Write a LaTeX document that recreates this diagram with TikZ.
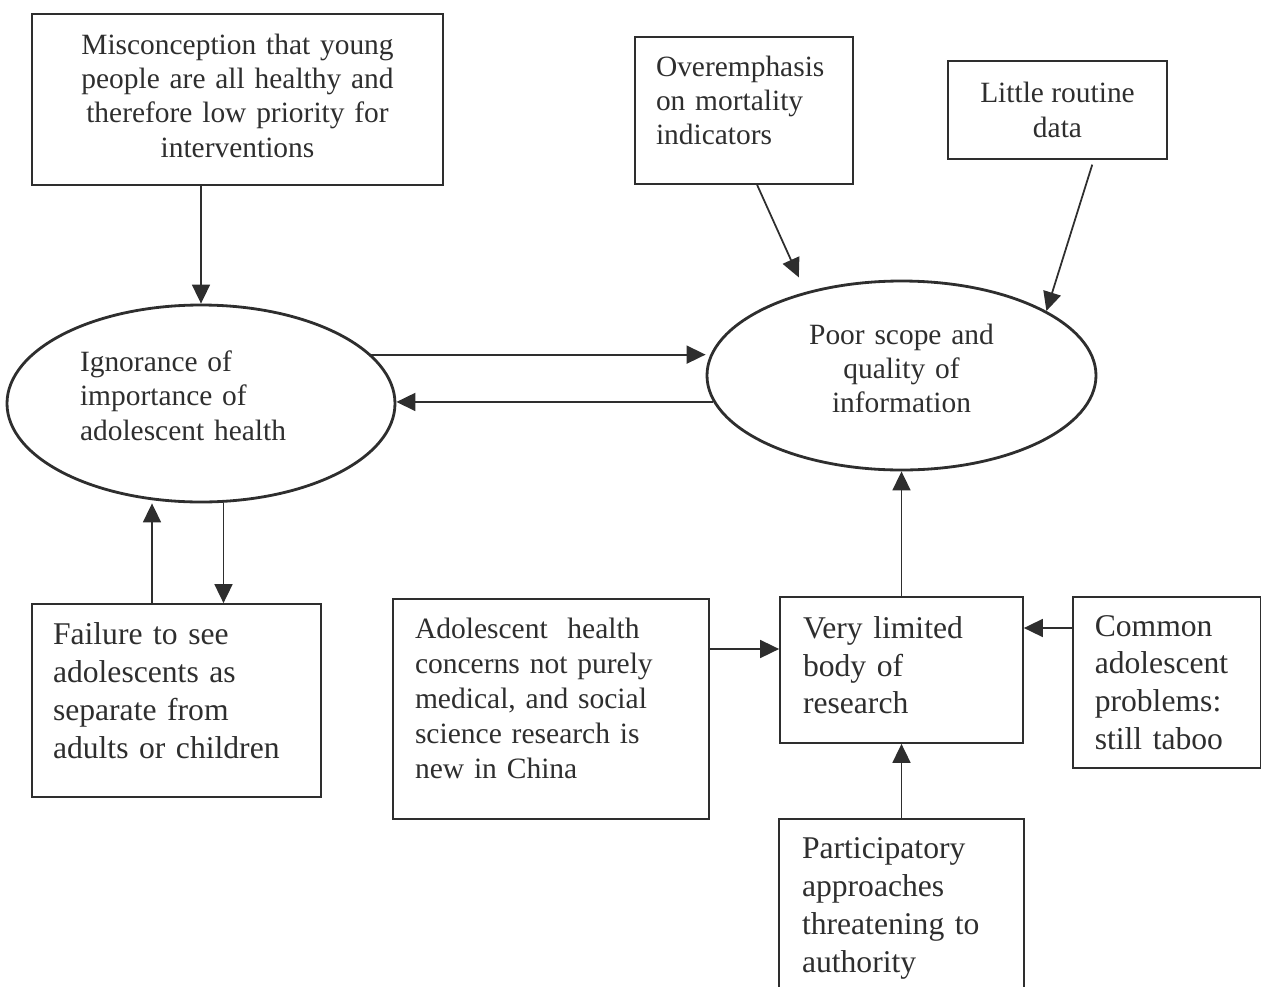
\documentclass[tikz,border=0pt]{standalone}
\usepackage{fontspec}
\setmainfont{Liberation Serif}
\usetikzlibrary{positioning,arrows.meta,shapes.geometric}
\definecolor{ink}{HTML}{2E2E2E}

\begin{document}
\begin{tikzpicture}[>={Triangle[length=0.38cm,width=0.36cm]},color=ink,
box node/.style={draw,rectangle,line width=1pt,inner sep=0pt,font=\fontsize{16.75pt}{19.5pt}\selectfont},
big node/.style={draw,rectangle,line width=1pt,inner xsep=0.44cm,inner ysep=0pt,align=left,font=\fontsize{18pt}{21.5pt}\selectfont},
oval node/.style={draw,ellipse,line width=1.6pt,inner sep=0pt,font=\fontsize{16.75pt}{19.5pt}\selectfont},
link/.style={->,line width=1pt}]
  \useasboundingbox (0,0) rectangle (25.22,-19.74);
  \clip (0,0) rectangle (25.22,-19.74);
% nodes
  \node[box node,align=center,text width=7.6cm,text depth=63pt,minimum width=8.22cm,minimum height=3.42cm] (miscon) at (4.75,-1.99)
    {Misconception that young\\people are all healthy and\\therefore low priority for\\interventions};
  \node[box node,align=left,text width=3.52cm,text depth=50.4pt,inner xsep=0.42cm,minimum height=2.94cm] (overemph) at (14.88,-2.21)
    {Overemphasis\\on mortality\\indicators};
  \node[box node,align=center,minimum width=4.38cm,minimum height=1.96cm] (routine) at (21.15,-2.2)
    {Little routine\\data};
  \node[oval node,align=left,text width=4.84cm,text depth=48pt,minimum width=7.76cm,minimum height=3.94cm] (ignor) at (4.02,-8.07)
    {Ignorance of\\importance of\\adolescent health};
  \node[oval node,align=center,text width=4.2cm,text depth=47pt,minimum width=7.78cm,minimum height=3.78cm] (poor) at (18.03,-7.51)
    {Poor scope and\\quality of\\information};
  \node[big node,text width=4.94cm,text depth=75.9pt,inner xsep=0.42cm,minimum height=3.86cm] (failure) at (3.53,-14.01)
    {Failure to see\\adolescents as\\separate from\\adults or children};
  \node[big node,text width=5.44cm,text depth=92pt,font=\fontsize{16.8pt}{19.9pt}\selectfont,minimum height=4.4cm] (concerns) at (11.02,-14.18)
    {Adolescent\ \ health\\concerns not purely\\medical, and social\\science research is\\new in China};
  \node[big node,text width=3.94cm,text depth=48.6pt,inner xsep=0.46cm,minimum height=2.92cm] (limited) at (18.03,-13.4)
    {Very limited\\body of\\research};
  \node[big node,text width=2.88cm,minimum height=3.42cm,right=0.96cm of limited.north east,anchor=north west] (common)
    {Common\\adolescent\\problems:\\still taboo};
  \node[big node,text width=3.98cm,inner xsep=0.46cm,inner ysep=0.38cm,below=1.48cm of limited] (particip)
    {Participatory\\approaches\\threatening to\\authority};
  \coordinate (cr) at ([yshift=1.2cm]concerns.east);
  \coordinate (cm) at ([yshift=0.84cm]limited.east);
  \coordinate (fu) at ([xshift=-0.49cm]failure.north);
  \coordinate (fd) at ([xshift=0.94cm]failure.north);
%edges
  \draw[link] (miscon.south -| ignor.north) -- (ignor.north);
  \draw[link] (ignor.16) -- (ignor.16 -| poor.west);
  \draw[link] (poor.188) -- (poor.188 -| ignor.east);
  \draw[link,shorten >=0.32cm] (overemph.280) -- (poor.139);
  \draw[link,shorten <=0.1cm] (routine.306) -- (poor.24);
  \draw[link] (limited.north) -- (poor.south);
  \draw[link] (particip.north) -- (limited.south);
  \draw[link] (cr) -- (cr -| limited.west);
  \draw[link] (cm -| common.west) -- (cm);
  \draw[link] (fu) -- (fu |- ignor.south);
  \draw[link] (fd |- ignor.south) -- (fd);
\end{tikzpicture}
\end{document}
